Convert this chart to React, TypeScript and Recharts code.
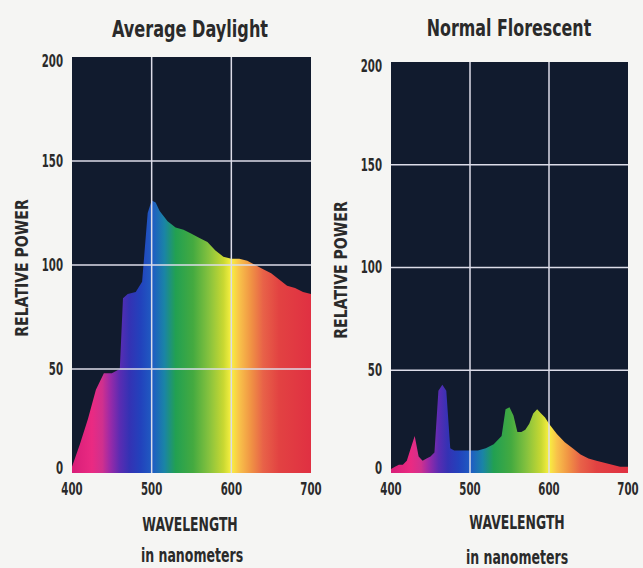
import { AreaChart, Area, XAxis, YAxis, CartesianGrid, ReferenceLine } from 'recharts';

// wavelength (nm) and relative power
const daylightNm = [400, 410, 420, 430, 440, 450, 460, 464, 470, 480, 488, 495, 500, 505, 510, 520, 530, 540, 550, 560, 570, 580, 590, 600, 610, 620, 630, 640, 650, 660, 670, 680, 690, 700];
const daylightPower = [3, 14, 26, 40, 48, 48, 50, 84, 86, 87, 92, 125, 131, 130, 126, 121, 118, 117, 115, 113, 111, 107, 104, 103, 103, 102, 100, 98, 96, 93, 90, 89, 87, 86];

const fluoroNm = [400, 405, 410, 415, 420, 425, 430, 435, 440, 445, 450, 455, 460, 465, 470, 475, 480, 490, 500, 510, 520, 530, 540, 545, 550, 555, 560, 565, 570, 575, 580, 585, 590, 595, 600, 610, 620, 630, 640, 650, 660, 670, 680, 690, 700];
const fluoroPower = [2, 3, 4, 4, 6, 12, 18, 8, 6, 7, 8, 10, 40, 43, 40, 12, 11, 11, 11, 11, 12, 14, 18, 31, 32, 28, 20, 20, 21, 24, 29, 31, 29, 27, 24, 19, 15, 12, 9, 7, 6, 5, 4, 3, 3];

const xTicks = [400, 500, 600, 700];
const yTicks = [0, 50, 100, 150, 200];
const gridX = [500, 600];
const gridY = [50, 100, 150];

// spectrum colour stops by wavelength
const spectrum: Array<[number, string]> = [
  [400, '#d81e78'],
  [425, '#ea2a82'],
  [438, '#d0308e'],
  [448, '#9a2aa8'],
  [460, '#5a2cb2'],
  [472, '#3432b4'],
  [486, '#2242bc'],
  [502, '#1f5ec2'],
  [516, '#1a84a6'],
  [530, '#22a052'],
  [552, '#44aa40'],
  [572, '#86c23e'],
  [590, '#c8d832'],
  [600, '#f8f040'],
  [610, '#f8c24a'],
  [625, '#f09244'],
  [640, '#e86248'],
  [660, '#e24242'],
  [700, '#e03042'],
];

const daylightData = daylightNm.map((nm, i) => ({ nm, power: daylightPower[i] }));
const fluoroData = fluoroNm.map((nm, i) => ({ nm, power: fluoroPower[i] }));

const FONT = "'DejaVu Sans', sans-serif";
const INK = '#2a2a2a';
const PLOT_BG = '#111b2e';
const GRID = '#dcdce8';

// condensed bold tick text, like the printed figure
function NarrowTick(props: any) {
  const { x, y, payload, textAnchor, axis } = props;
  let dy = 0;
  if (axis === 'y') {
    dy = payload.value === 0 ? -5 : payload.value === 200 ? 4 : 0;
  }
  return (
    <g transform={`translate(${x},${y + dy})`}>
      <text
        transform="scale(0.6,1)"
        textAnchor={textAnchor}
        dy={axis === 'y' ? '0.35em' : '0.75em'}
        fill={INK}
        fontSize={17}
        fontFamily={FONT}
        fontWeight={700}
      >
        {payload.value}
      </text>
    </g>
  );
}

interface PanelProps {
  id: string;
  data: Array<{ nm: number; power: number }>;
  left: number;
  width: number;
  margin: { top: number; right: number; bottom: number; left: number };
}

function SpectrumPanel({ id, data, left, width, margin }: PanelProps) {
  return (
    <div style={{ position: 'absolute', left, top: 0 }}>
      <AreaChart width={width} height={568} data={data} margin={margin}>
        <defs>
          <linearGradient id={id} x1="0" y1="0" x2="1" y2="0">
            {spectrum.map(([nm, c]) => (
              <stop key={nm} offset={`${((nm - 400) / 300) * 100}%`} stopColor={c} />
            ))}
          </linearGradient>
        </defs>
        <CartesianGrid fill={PLOT_BG} horizontal={false} vertical={false} stroke="none" />
        <XAxis
          dataKey="nm"
          type="number"
          domain={[400, 700]}
          ticks={xTicks}
          axisLine={false}
          tickLine={false}
          tickSize={0}
          tickMargin={9}
          height={30}
          tick={<NarrowTick axis="x" />}
          interval={0}
        />
        <YAxis
          type="number"
          domain={[0, 200]}
          ticks={yTicks}
          axisLine={false}
          tickLine={false}
          tickSize={0}
          tickMargin={9}
          width={30}
          tick={<NarrowTick axis="y" />}
          interval={0}
        />
        <Area
          type="linear"
          dataKey="power"
          stroke="none"
          fill={`url(#${id})`}
          fillOpacity={1}
          isAnimationActive={false}
        />
        {gridY.map((v) => (
          <ReferenceLine key={`h${v}`} y={v} stroke={GRID} strokeWidth={1.5} />
        ))}
        {gridX.map((v) => (
          <ReferenceLine key={`v${v}`} x={v} stroke={GRID} strokeWidth={1.5} />
        ))}
      </AreaChart>
    </div>
  );
}

function Caption({ x, y, size, squeeze, text, rotate }: { x: number; y: number; size: number; squeeze: number; text: string; rotate?: boolean }) {
  return (
    <div
      style={{
        position: 'absolute',
        left: x,
        top: y,
        transform: `translate(-50%, -50%)${rotate ? ' rotate(-90deg)' : ''} scaleX(${squeeze})`,
        whiteSpace: 'nowrap',
        fontFamily: FONT,
        fontWeight: 700,
        fontSize: size,
        color: INK,
        lineHeight: 1,
      }}
    >
      {text}
    </div>
  );
}

export default function App() {
  return (
    <div
      style={{
        position: 'absolute',
        left: 0,
        top: 0,
        width: 643,
        height: 568,
        background: '#f5f5f3',
        overflow: 'hidden',
      }}
    >
      <SpectrumPanel
        id="daylightSpectrum"
        data={daylightData}
        left={0}
        width={330}
        margin={{ top: 57, right: 19, bottom: 65, left: 42 }}
      />
      <SpectrumPanel
        id="fluoroSpectrum"
        data={fluoroData}
        left={330}
        width={313}
        margin={{ top: 62, right: 15, bottom: 65, left: 31 }}
      />
      <Caption x={190} y={29} size={23} squeeze={0.7} text="Average Daylight" />
      <Caption x={509} y={28} size={23} squeeze={0.69} text="Normal Florescent" />
      <Caption x={22} y={268} size={18} squeeze={0.78} text="RELATIVE POWER" rotate />
      <Caption x={341} y={270} size={18} squeeze={0.78} text="RELATIVE POWER" rotate />
      <Caption x={190} y={524} size={20} squeeze={0.62} text="WAVELENGTH" />
      <Caption x={192} y={555} size={19} squeeze={0.66} text="in nanometers" />
      <Caption x={517} y={522} size={20} squeeze={0.62} text="WAVELENGTH" />
      <Caption x={517} y={557} size={19} squeeze={0.66} text="in nanometers" />
    </div>
  );
}
